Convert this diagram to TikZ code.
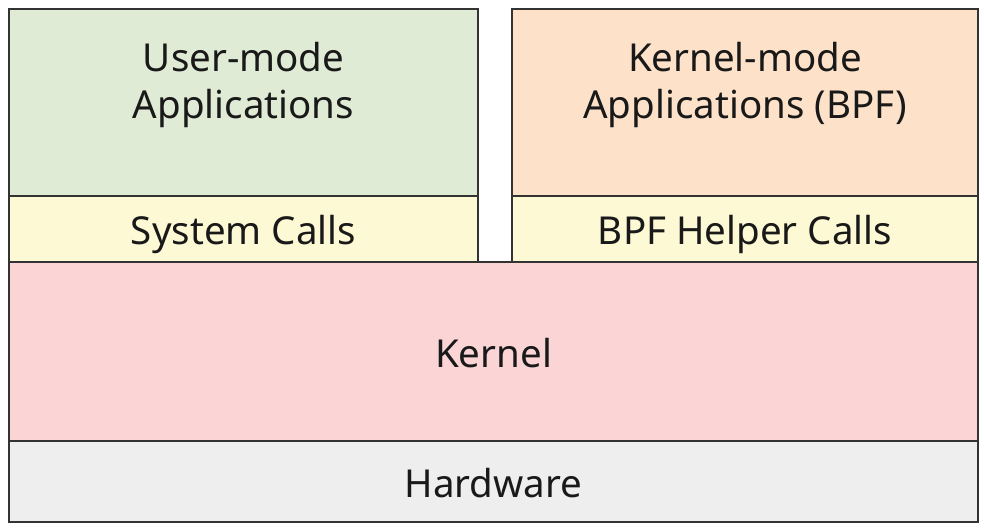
\documentclass[tikz,border=0pt]{standalone}
\usepackage{fontspec}
\setmainfont{Noto Sans}
\definecolor{usergreen}{HTML}{DFEBD5}
\definecolor{callyellow}{HTML}{FDF9D5}
\definecolor{bpfpeach}{HTML}{FDE1C8}
\definecolor{kernelpink}{HTML}{FBD4D6}
\definecolor{hwgray}{HTML}{EEEEEE}
\definecolor{edge}{HTML}{333333}
\begin{document}
\begin{tikzpicture}[x=1pt,y=-1pt,
	layer/.style={draw=edge,line width=2pt,inner sep=0pt,align=center,
		text height=31pt,text depth=0pt,
		font=\fontsize{38.5}{47}\selectfont,text=black!90},
	caption/.style={inner sep=0pt,align=center,font=\fontsize{38.5}{47}\selectfont,text=black!90}]
		\useasboundingbox (0,0) rectangle (984,530);
		\node[layer,fill=usergreen,minimum width=469pt,minimum height=187pt] (user) at (243.5,102.5) {};
		\node[caption,yshift=18pt] (user-text) at (user.center) {User-mode\\Applications};
		\node[layer,fill=callyellow,minimum width=469pt,minimum height=66pt] (syscalls) at (243.5,229) {System Calls};
		\node[layer,fill=bpfpeach,minimum width=466pt,minimum height=187pt] (bpfapps) at (745,102.5) {};
		\node[caption,yshift=18pt] (bpfapps-text) at (bpfapps.center) {Kernel-mode\\Applications (BPF)};
		\node[layer,fill=callyellow,minimum width=466pt,minimum height=66pt] (helpers) at (745,229) {BPF Helper Calls};
		\node[layer,fill=kernelpink,minimum width=969pt,minimum height=179pt] (kernel) at (493.5,351.5) {Kernel};
		\node[layer,fill=hwgray,minimum width=969pt,minimum height=81pt] (hardware) at (493.5,481.5) {Hardware};
\end{tikzpicture}
\end{document}
